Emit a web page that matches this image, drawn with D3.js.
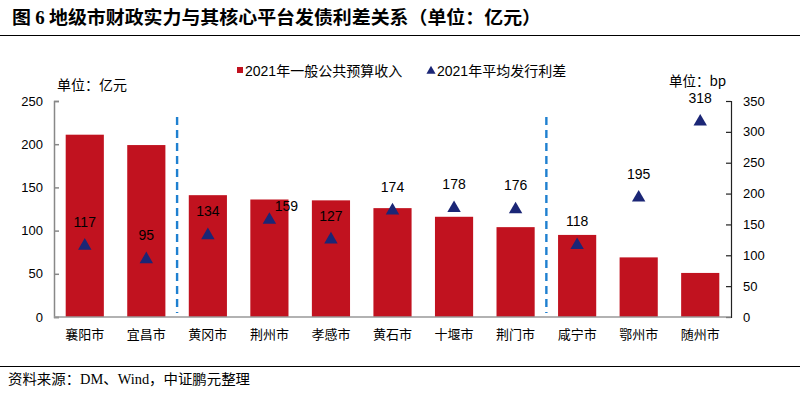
<!DOCTYPE html>
<html>
<head>
<meta charset="utf-8">
<script src="https://cdn.jsdelivr.net/npm/d3@7"></script>
<style>
  body { margin: 0; background: #fff; }
  svg { display: block; }
</style>
</head>
<body>
<div id="chart"></div>
<script>
// ── data ────────────────────────────────────────────────────────────────────
const cities = ['襄阳市', '宜昌市', '黄冈市', '荆州市', '孝感市', '黄石市', '十堰市', '荆门市', '咸宁市', '鄂州市', '随州市'];
const revenue = [211, 199, 141, 136, 135, 126, 116, 104, 95, 69, 51]; // 亿元
const spread = [117, 95, 134, 159, 127, 174, 178, 176, 118, 195, 318]; // bp
const leftTicks = [0, 50, 100, 150, 200, 250];
const rightTicks = [0, 50, 100, 150, 200, 250, 300, 350];
const dividers = ['宜昌市', '荆门市']; // dashed line after these

const W = 800;
const H = 393;
const BAR = '#C1121F';
const TRI = '#1B2676';
const FONT = '"Liberation Sans", Arial, "Noto Sans CJK SC", sans-serif';
const CJK = '"Noto Sans CJK SC", sans-serif';
const SERIF = '"Liberation Serif", "Noto Sans CJK SC", serif';

const X0 = 54;
const X1 = 731;
const Y0 = 317;
const Y1 = 101;

const svg = d3.select('#chart').append('svg').attr('width', W).attr('height', H);

// ── title + rules ───────────────────────────────────────────────────────────
const title = svg.append('text')
  .attr('x', 12)
  .attr('y', 24)
  .attr('font-family', CJK)
  .attr('font-weight', 'bold')
  .attr('font-size', '18px')
  .attr('fill', '#000')
  .attr('textLength', 529)
  .attr('lengthAdjust', 'spacingAndGlyphs');
title.append('tspan').text('图 ');
title.append('tspan').attr('font-family', SERIF).text('6');
title.append('tspan').text('  地级市财政实力与其核心平台发债利差关系（单位：亿元）');

svg.append('line').attr('x1', 0).attr('x2', W).attr('y1', 35.5).attr('y2', 35.5)
  .attr('stroke', '#000').attr('stroke-width', 1.2);
svg.append('line').attr('x1', 0).attr('x2', W).attr('y1', 366.5).attr('y2', 366.5)
  .attr('stroke', '#000').attr('stroke-width', 1.2);

svg.append('text')
  .attr('x', 8)
  .attr('y', 384)
  .attr('font-family', SERIF)
  .attr('font-size', '14px')
  .attr('fill', '#000')
  .attr('textLength', 242)
  .attr('lengthAdjust', 'spacingAndGlyphs')
  .text('资料来源：DM、Wind，中证鹏元整理');

// ── scales ──────────────────────────────────────────────────────────────────
const x = d3.scaleBand().domain(cities).range([X0, X1]).paddingInner(0.38).paddingOuter(0.19);
const yL = d3.scaleLinear().domain([0, 250]).range([Y0, Y1]);
const yR = d3.scaleLinear().domain([0, 350]).range([Y0, Y1]);

// ── bars ────────────────────────────────────────────────────────────────────
svg.append('g').selectAll('rect')
  .data(cities)
  .join('rect')
  .attr('x', (d) => x(d))
  .attr('y', (d, i) => yL(revenue[i]))
  .attr('width', x.bandwidth())
  .attr('height', (d, i) => Y0 - yL(revenue[i]))
  .attr('fill', BAR);

// ── dashed dividers ─────────────────────────────────────────────────────────
dividers.forEach((c) => {
  const xd = x(c) + x.bandwidth() + (x.step() - x.bandwidth()) / 2;
  svg.append('line')
    .attr('x1', xd).attr('x2', xd)
    .attr('y1', 117).attr('y2', 313)
    .attr('stroke', '#1F80D0')
    .attr('stroke-width', 2.4)
    .attr('stroke-dasharray', '8,5');
});

// ── axes ────────────────────────────────────────────────────────────────────
const axL = svg.append('g').attr('transform', `translate(${X0},0)`)
  .call(d3.axisRight(yL).tickValues(leftTicks).tickSize(5).tickFormat(''));
axL.select('.domain').attr('stroke', '#888').attr('stroke-width', 1.5);
axL.selectAll('.tick line').attr('stroke', '#888').attr('stroke-width', 1.5);

leftTicks.forEach((t) => {
  svg.append('text')
    .attr('x', 43)
    .attr('y', yL(t))
    .attr('dy', '0.35em')
    .attr('text-anchor', 'end')
    .attr('font-family', FONT)
    .attr('font-size', '13px')
    .attr('fill', '#000')
    .text(t);
});

const axR = svg.append('g').attr('transform', `translate(${X1},0)`)
  .call(d3.axisLeft(yR).tickValues(rightTicks).tickSize(5).tickFormat(''));
axR.select('.domain').attr('stroke', '#222').attr('stroke-width', 1.2);
axR.selectAll('.tick line').attr('stroke', '#222').attr('stroke-width', 1.2);

rightTicks.forEach((t) => {
  svg.append('text')
    .attr('x', 743)
    .attr('y', yR(t))
    .attr('dy', '0.35em')
    .attr('text-anchor', 'start')
    .attr('font-family', FONT)
    .attr('font-size', '13px')
    .attr('fill', '#000')
    .text(t);
});

// baseline
svg.append('line').attr('x1', X0).attr('x2', X1).attr('y1', Y0).attr('y2', Y0)
  .attr('stroke', '#999').attr('stroke-width', 1.5);

// category labels
cities.forEach((c) => {
  svg.append('text')
    .attr('x', x(c) + x.bandwidth() / 2)
    .attr('y', 339)
    .attr('text-anchor', 'middle')
    .attr('font-family', CJK)
    .attr('font-size', '13px')
    .attr('fill', '#000')
    .text(c);
});

// unit labels
svg.append('text').attr('x', 57).attr('y', 90)
  .attr('font-family', CJK).attr('font-size', '14px').text('单位：亿元');
svg.append('text').attr('x', 669).attr('y', 86)
  .attr('font-family', CJK).attr('font-size', '13.5px').text('单位：bp');

// ── triangles + value labels ────────────────────────────────────────────────
const tri = d3.symbol().type(d3.symbolTriangle).size(78);
const labelShift = { '荆州市': [17, 10] }; // label nudged right to avoid overlap

cities.forEach((c, i) => {
  const cx = x(c) + x.bandwidth() / 2;
  const cy = yR(spread[i]);
  svg.append('path')
    .attr('d', tri)
    .attr('transform', `translate(${cx},${cy + 1})`)
    .attr('fill', TRI);

  const [dx, dy] = labelShift[c] || [0, 0];
  svg.append('text')
    .attr('x', cx + dx)
    .attr('y', cy - 18 + dy)
    .attr('text-anchor', 'middle')
    .attr('font-family', FONT)
    .attr('font-size', '14px')
    .attr('fill', '#000')
    .text(spread[i]);
});

// ── legend ──────────────────────────────────────────────────────────────────
svg.append('rect').attr('x', 237).attr('y', 67).attr('width', 6).attr('height', 6).attr('fill', BAR);
svg.append('text').attr('x', 245).attr('y', 75.5)
  .attr('font-family', FONT).attr('font-size', '14px').text('2021年一般公共预算收入');

svg.append('path')
  .attr('d', d3.symbol().type(d3.symbolTriangle).size(36))
  .attr('transform', 'translate(431,71)')
  .attr('fill', TRI);
svg.append('text').attr('x', 437).attr('y', 75.5)
  .attr('font-family', FONT).attr('font-size', '14px').text('2021年平均发行利差');
</script>
</body>
</html>
